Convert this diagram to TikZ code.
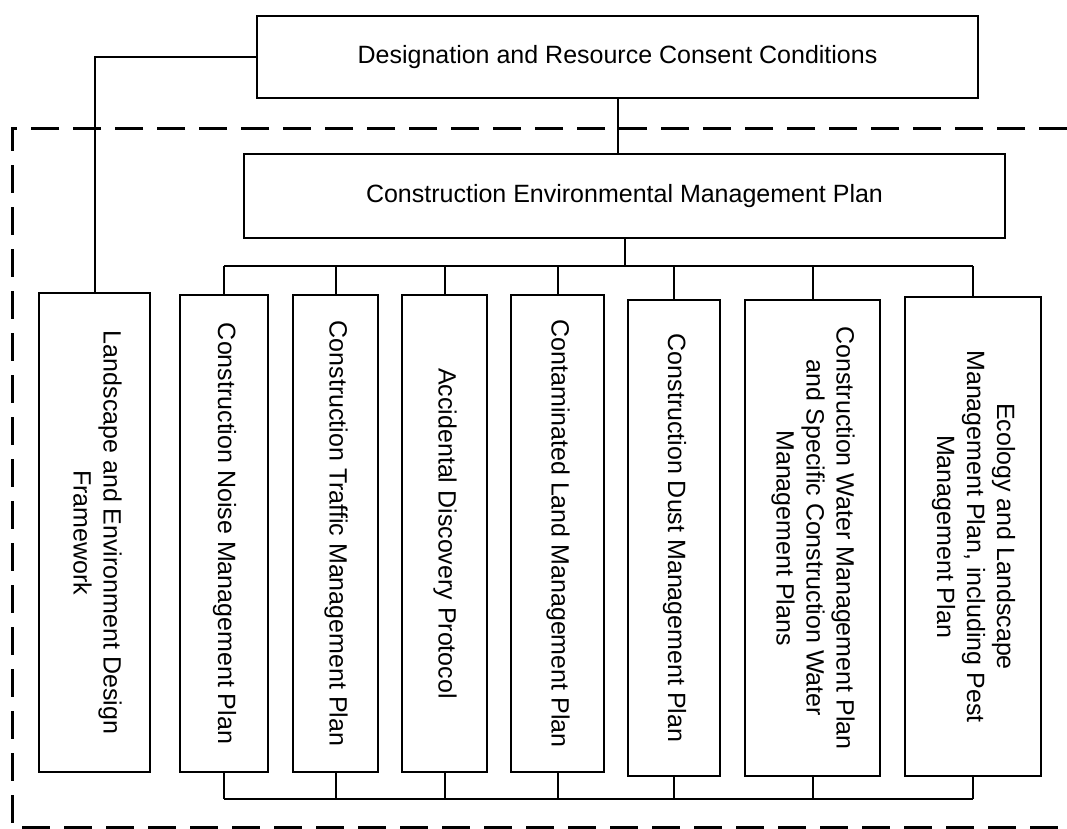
\documentclass[tikz,border=0pt]{standalone}
\usepackage{fontspec}
\setmainfont{Liberation Sans}
\usepackage{xcolor}
\usetikzlibrary{positioning}
\tikzset{
    header/.style={rectangle, draw=black, line width=2.3pt, text centered, font=\fontsize{25}{30}\selectfont},
    plan/.style={rectangle, draw=black, line width=2.3pt, inner sep=0pt, text centered, font=\fontsize{25}{30}\selectfont},
    link/.style={line width=2pt},
    boundary/.style={line width=3pt, dash pattern=on 28pt off 14pt}
}
\newcommand{\vlabel}[1]{\rotatebox{-90}{\begin{tabular}{@{}c@{}}#1\end{tabular}}}

\begin{document}
\begin{tikzpicture}[x=1pt, y=-1pt]
        \useasboundingbox (0,0) rectangle (1067,828);

        % Boundary of the management plans
        \draw[boundary] (1067,128) -- (12,128) -- (12,827) -- (1067,827);

        % Nodes
        \node[header, minimum width=721pt, minimum height=82pt] (consent) at (617.5,57) {Designation and Resource Consent Conditions};
        \node[header, minimum width=761pt, minimum height=84pt] (cemp) at (624.5,196) {Construction Environmental Management Plan};
        \node[plan, minimum width=111pt, minimum height=479pt] (ledf) at (94.5,532.5) {\vlabel{Landscape and Environment Design\\Framework}};
        \node[plan, minimum width=88pt, minimum height=477pt] (cnmp) at (224,533.5) {\vlabel{Construction Noise Management Plan}};
        \node[plan, minimum width=85pt, minimum height=477pt] (ctmp) at (335.5,533.5) {\vlabel{Construction Traffic Management Plan}};
        \node[plan, minimum width=85pt, minimum height=477pt] (adp) at (444.5,533.5) {\vlabel{Accidental Discovery Protocol}};
        \node[plan, minimum width=93pt, minimum height=477pt] (clmp) at (557.5,533.5) {\vlabel{Contaminated Land Management Plan}};
        \node[plan, minimum width=92pt, minimum height=476pt] (cdmp) at (674,538) {\vlabel{Construction Dust Management Plan}};
        \node[plan, minimum width=135pt, minimum height=476pt] (cwmp) at (812.5,538) {\vlabel{Construction Water Management Plan\\and Specific Construction Water\\Management Plans}};
        \node[plan, minimum width=136pt, minimum height=479pt] (ecol) at (973,536.5) {\vlabel{Ecology and Landscape\\Management Plan, including Pest\\Management Plan}};

        % Bus levels
        \coordinate (topbus) at (0,266);
        \coordinate (lowbus) at (0,799);

        % Connectors
        \draw[link] (consent.west) -| (ledf.north);
        \draw[link] (consent.south) -- (consent.south |- cemp.north);
        \draw[link] (cemp.south) -- (cemp.south |- topbus);
        \draw[link] (cnmp.north |- topbus) -- (ecol.north |- topbus);
        \draw[link] (cnmp.south |- lowbus) -- (ecol.south |- lowbus);
        \foreach \p in {cnmp, ctmp, adp, clmp, cdmp, cwmp, ecol} {
            \draw[link] (\p.north) -- (\p.north |- topbus);
            \draw[link] (\p.south) -- (\p.south |- lowbus);
        }
    \end{tikzpicture}
\end{document}
